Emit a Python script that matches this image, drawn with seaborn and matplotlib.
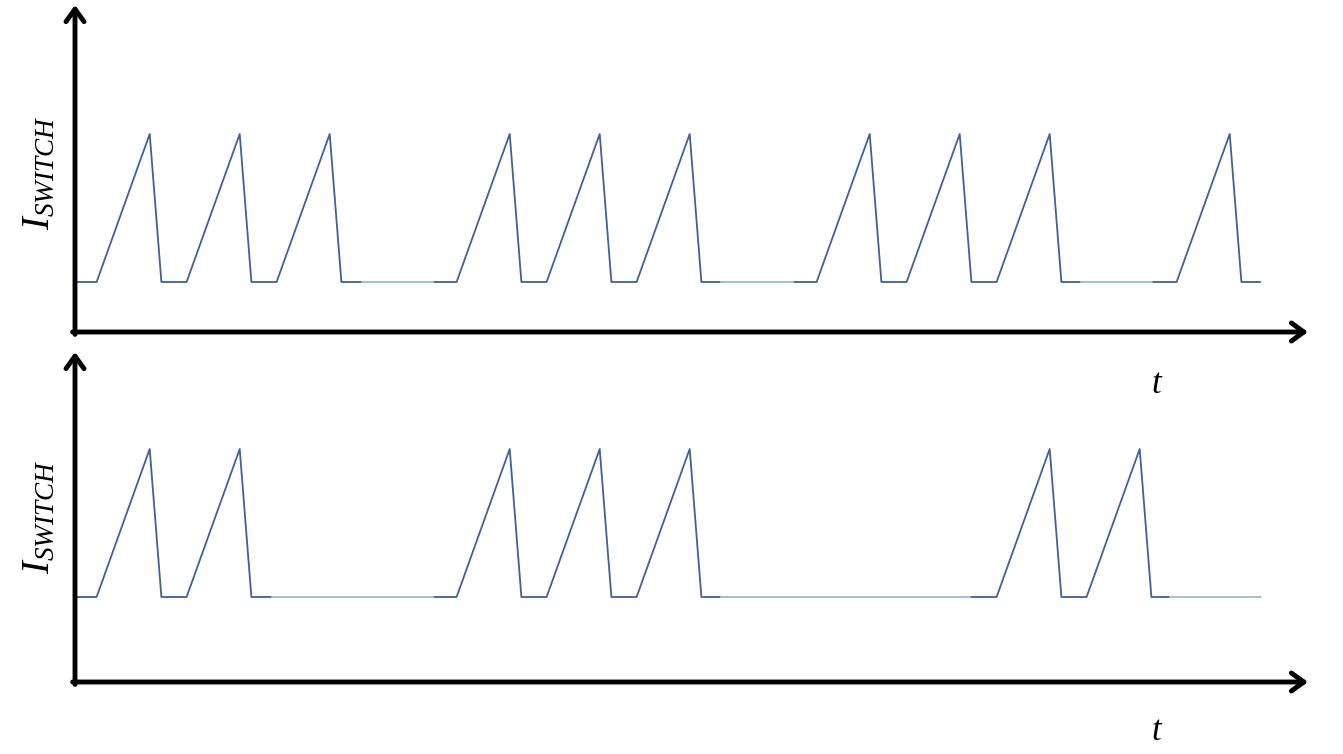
# two switch-current waveforms (burst mode), one above the other
import numpy as np
import pandas as pd
import seaborn as sns
import matplotlib.pyplot as plt

# time unit = one switching period
rise_starts_top = [0.24, 1.24, 2.24, 4.24, 5.24, 6.24, 8.24, 9.24, 10.24, 12.24]
rise_starts_bot = [0.24, 1.24, 4.24, 5.24, 6.24, 10.24, 11.24]
idle_top = [(3.19, 3.98), (7.18, 7.98), (11.18, 11.97)]
idle_bot = [(2.19, 3.98), (7.18, 9.94), (12.17, 13.17)]
t_end = 13.17
i_base = 0.5
i_peak = 1.98
rise_time = 0.59
fall_time = 0.13

dark = "#40609a"
light = "#a9bedb"


def waveform(starts):
    t = [0.0]
    i = [i_base]
    for s in starts:
        t += [s, s + rise_time, s + rise_time + fall_time]
        i += [i_base, i_peak, i_base]
    t.append(t_end)
    i.append(i_base)
    return pd.DataFrame({"t": t, "i": i})


sns.set_style("white")
plt.rcParams["mathtext.fontset"] = "custom"
plt.rcParams["mathtext.it"] = "Liberation Serif:italic"
plt.rcParams["mathtext.rm"] = "Liberation Serif"
plt.rcParams["text.color"] = "black"

fig = plt.figure(figsize=(13.43, 7.54), dpi=100)
W, H = 1343, 754
x0, x1 = 75 / W, 1308 / W
ax_top = fig.add_axes([x0, 1 - 332 / H, x1 - x0, (332 - 5) / H])
ax_bot = fig.add_axes([x0, 1 - 682 / H, x1 - x0, (682 - 352) / H])

xmax = (1308 - 75) / 90
panels = [
    (ax_top, rise_starts_top, idle_top, (0, 3.27), 173, 383, 327),
    (ax_bot, rise_starts_bot, idle_bot, (i_base - 0.85, i_base - 0.85 + 3.30), 517, 730, 330),
]

for ax, starts, idle, ylim, lab_y, t_y, h_px in panels:
    df = waveform(starts)
    sns.lineplot(data=df, x="t", y="i", sort=False, estimator=None,
                 color=dark, lw=1.3, ax=ax)
    for a, b in idle:
        seg = pd.DataFrame({"t": [a, b], "i": [i_base, i_base]})
        sns.lineplot(data=seg, x="t", y="i", sort=False, estimator=None,
                     color=light, lw=1.5, ax=ax)
    ax.set_xlim(0, xmax)
    ax.set_ylim(*ylim)
    ax.set_axis_off()
    arrow = dict(arrowstyle="->,head_length=0.9,head_width=0.65", lw=3.5,
                 color="black", shrinkA=0, shrinkB=0)
    ax.annotate("", xy=(1, 0), xytext=(-2.4 / 1233, 0), xycoords="axes fraction",
                arrowprops=arrow, annotation_clip=False)
    ax.annotate("", xy=(0, 1), xytext=(0, -2.4 / h_px), xycoords="axes fraction",
                arrowprops=arrow, annotation_clip=False)
    fig.text(38 / W, 1 - lab_y / H, r"$I_{SWITCH}$", rotation=90,
             ha="center", va="center", fontsize=28, color="black")
    fig.text(1157 / W, 1 - t_y / H, r"$t$", ha="center", va="center",
             fontsize=25, color="black")

plt.savefig("out.png", dpi=100)
